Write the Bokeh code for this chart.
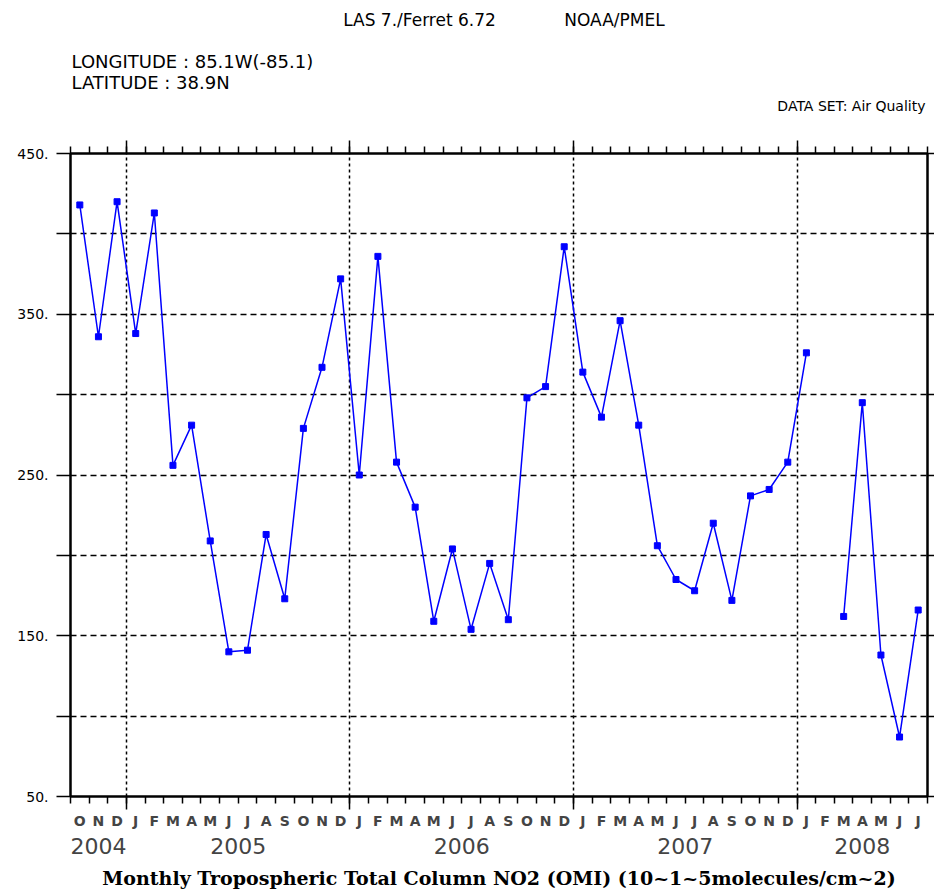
from bokeh.plotting import figure
from bokeh.models import Range1d, LinearAxis, FixedTicker, Grid
from bokeh.layouts import column
from bokeh.core.properties import value
from bokeh.embed import file_html
from bokeh.resources import INLINE

# ---- data ----
month_letters = ["O", "N", "D",
                 "J", "F", "M", "A", "M", "J", "J", "A", "S", "O", "N", "D",
                 "J", "F", "M", "A", "M", "J", "J", "A", "S", "O", "N", "D",
                 "J", "F", "M", "A", "M", "J", "J", "A", "S", "O", "N", "D",
                 "J", "F", "M", "A", "M", "J", "J"]
year_labels = ["2004", "2005", "2006", "2007", "2008"]
year_first_month = [0, 3, 15, 27, 39]   # index of the first month of each year on the axis
year_month_count = [3, 12, 12, 12, 7]
no2 = [418, 336, 420, 338, 413,
       256, 281, 209, 140, 141, 213, 173, 279, 317, 372,
       250, 386, 258, 230, 159, 204, 154, 195, 160, 298, 305, 392,
       314, 286, 346, 281, 206, 185, 178, 220, 172, 237, 241, 258,
       326, float("nan"), 162, 295, 138, 87, 166]
y_label_ticks = [50, 150, 250, 350, 450]
y_label_texts = ["50.", "150.", "250.", "350.", "450."]
y_other_ticks = [100, 200, 300, 400]

n = len(no2)
xs = [i + 0.5 for i in range(n)]
month_bounds = list(range(n + 1))
year_bounds = year_first_month[1:]
year_centers = [s + c / 2 for s, c in zip(year_first_month, year_month_count)]
all_y_ticks = sorted(y_label_ticks + y_other_ticks)

BLUE = "#0000FF"
W = 934
HEAD_H = 140
FRAME_L, FRAME_R = 70, 927   # the header's frame is aligned with the plot frame

# ---------------- header strip ----------------
head = figure(width=W, height=HEAD_H,
              x_range=Range1d(FRAME_L, FRAME_R), y_range=Range1d(HEAD_H, 0),
              output_backend="svg", toolbar_location=None,
              x_axis_location=None, y_axis_location=None,
              min_border=0, min_border_left=0, min_border_right=0,
              min_border_top=0, min_border_bottom=0)
head.title = None
for r in head.center:
    r.visible = False
head.outline_line_color = None
head.background_fill_color = "white"
head.border_fill_color = "white"

def htext(x, y, text, align, size):
    head.text(x=[x], y=[y], text=[text], text_align=align, text_baseline="middle",
              text_font=value("DejaVu Sans"), text_font_size=size, text_color="black")

htext(419, 19, "LAS 7./Ferret 6.72", "center", "17px")
htext(614, 19, "NOAA/PMEL", "center", "17px")
htext(71, 61, "LONGITUDE : 85.1W(-85.1)", "left", "18px")
htext(71, 82, "LATITUDE : 38.9N", "left", "18px")
htext(925, 105, "DATA SET: Air Quality", "right", "14px")

# ---------------- main plot ----------------
p = figure(width=W, height=892 - HEAD_H,
           x_range=Range1d(0, n), y_range=Range1d(50, 450),
           output_backend="svg", toolbar_location=None,
           x_axis_location=None, y_axis_location=None,
           min_border_left=70, min_border_right=7,
           min_border_top=13, min_border_bottom=96)
p.title = None
for r in p.center:
    r.visible = False
p.outline_line_color = "black"
p.outline_line_width = 2
p.background_fill_color = "white"
p.border_fill_color = "white"

# left axis: labelled ticks every 100, unlabelled ticks in between
yax = LinearAxis(ticker=FixedTicker(ticks=y_label_ticks, minor_ticks=y_other_ticks),
                 major_label_overrides={t: l for t, l in zip(y_label_ticks, y_label_texts)},
                 major_tick_out=14, major_tick_in=0,
                 minor_tick_out=14, minor_tick_in=0,
                 major_label_standoff=8,
                 axis_line_width=2, major_tick_line_width=1.5,
                 minor_tick_line_width=1.5,
                 major_label_text_font="DejaVu Sans",
                 major_label_text_font_size="14px",
                 major_label_text_color="black")
p.add_layout(yax, "left")

# right axis (ticks only)
rax = LinearAxis(ticker=FixedTicker(ticks=[], minor_ticks=all_y_ticks),
                 major_tick_out=0, major_tick_in=0,
                 minor_tick_out=7, minor_tick_in=0,
                 major_label_standoff=0,
                 major_label_text_font_size="0px",
                 major_label_text_color=None,
                 axis_line_width=2, minor_tick_line_width=1.5)
p.add_layout(rax, "right")

# bottom / top tick axes (long ticks at year boundaries, short ones at months)
def tick_axis():
    return LinearAxis(ticker=FixedTicker(ticks=year_bounds, minor_ticks=month_bounds),
                      major_tick_out=13, major_tick_in=0,
                      minor_tick_out=7, minor_tick_in=0,
                      major_label_text_font_size="0px",
                      major_label_text_color=None,
                      major_label_standoff=0,
                      axis_line_width=2, major_tick_line_width=1.5,
                      minor_tick_line_width=1.5)

p.add_layout(tick_axis(), "below")
p.add_layout(tick_axis(), "above")

# month letters
max_ = LinearAxis(ticker=FixedTicker(ticks=xs),
                  major_label_overrides={x: m for x, m in zip(xs, month_letters)},
                  major_tick_out=0, major_tick_in=0,
                  minor_tick_out=0, minor_tick_in=0,
                  axis_line_color=None, major_tick_line_color=None,
                  minor_tick_line_color=None,
                  major_label_standoff=3,
                  major_label_text_font="DejaVu Sans",
                  major_label_text_font_style="bold",
                  major_label_text_font_size="14px")
p.add_layout(max_, "below")

# years + axis title
yrax = LinearAxis(ticker=FixedTicker(ticks=year_centers),
                  major_label_overrides={x: y for x, y in zip(year_centers, year_labels)},
                  major_tick_out=0, major_tick_in=0,
                  minor_tick_out=0, minor_tick_in=0,
                  axis_line_color=None, major_tick_line_color=None,
                  minor_tick_line_color=None,
                  major_label_standoff=6,
                  major_label_text_font="DejaVu Sans",
                  major_label_text_font_size="22px",
                  axis_label="Monthly Tropospheric Total Column NO2 (OMI) (10~1~5molecules/cm~2)",
                  axis_label_standoff=10,
                  axis_label_text_font="DejaVu Serif",
                  axis_label_text_font_style="bold",
                  axis_label_text_font_size="19px",
                  axis_label_text_color="black")
p.add_layout(yrax, "below")

# grids
p.add_layout(Grid(dimension=1, ticker=FixedTicker(ticks=all_y_ticks[1:-1]),
                  grid_line_color="black", grid_line_width=1.5,
                  grid_line_dash="6 4"))
p.add_layout(Grid(dimension=0, ticker=FixedTicker(ticks=year_bounds),
                  grid_line_color="black", grid_line_width=1.5,
                  grid_line_dash="3 3"))

# data
p.line(xs, no2, line_color=BLUE, line_width=1.5)
p.scatter(xs, no2, marker="square", size=6, fill_color=BLUE, line_color=BLUE)

layout = column(head, p, spacing=0)
open("out.html", "w").write(file_html(layout, INLINE))
